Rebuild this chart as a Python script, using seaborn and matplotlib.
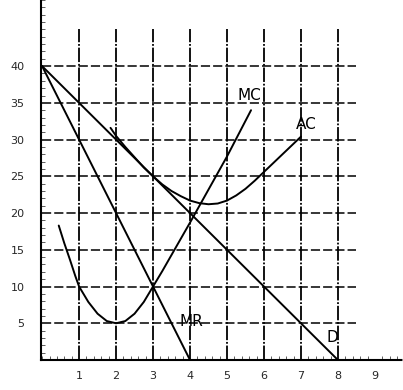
import numpy as np
import pandas as pd
import matplotlib
matplotlib.use("Agg")
import matplotlib.pyplot as plt
import seaborn as sns
from matplotlib.ticker import MultipleLocator

sns.set_theme(style="white")
plt.rcParams['font.family'] = ['DejaVu Sans']

# values
demand_q = [0, 8]
demand_p = [40, 0]

mr_q = [0, 4]
mr_p = [40, 0]

mc_q = [0.45, 0.6, 0.75, 0.9, 1.0, 1.25, 1.5, 1.75, 2.0, 2.25, 2.5, 2.75, 3.0,
        3.25, 3.5, 3.75, 4.0, 4.5, 5.0, 5.65]
mc_p = [18.3, 15.9, 13.7, 11.4, 10.0, 7.9, 6.3, 5.3, 5.0, 5.3, 6.3, 7.9, 10.0,
        12.1, 14.3, 16.5, 18.7, 23.2, 27.7, 34.0]

ac_q = [1.85, 2.0, 2.25, 2.5, 2.75, 3.0, 3.25, 3.5, 3.75, 4.0, 4.25, 4.5, 4.75,
        5.0, 5.25, 5.5, 5.75, 6.0, 6.25, 6.5, 6.75, 7.0]
ac_p = [31.6, 30.5, 29.0, 27.6, 26.2, 25.0, 23.9, 23.0, 22.3, 21.7, 21.35, 21.2, 21.3,
        21.7, 22.4, 23.3, 24.4, 25.6, 26.8, 28.0, 29.2, 30.4]

x_ticks = [1, 2, 3, 4, 5, 6, 7, 8, 9]
x_grid = [1, 2, 3, 4, 5, 6, 7, 8]
y_ticks = [5, 10, 15, 20, 25, 30, 35, 40]

labels = {"MC": (5.6, 36.0), "AC": (7.15, 32.0), "MR": (4.05, 5.3), "D": (7.85, 3.0)}

fig = plt.figure(figsize=(4.03, 3.90), dpi=100)
ax = fig.add_axes([41 / 403, 30 / 390, 362 / 403, 360 / 390])
ax.set_xlim(-0.03, 9.76)
ax.set_ylim(0, 49)

# grid
ax.hlines(y_ticks, 0, 8.5, colors="black", linestyles=(0, (6, 2)), linewidth=1.1, zorder=1)
ax.vlines(x_grid, 0, 45, colors="black", linestyles=(0, (8, 1, 1, 1)), linewidth=1.3, zorder=1)

curves = [(demand_q, demand_p), (mr_q, mr_p), (mc_q, mc_p), (ac_q, ac_p)]
for q, p in curves:
    df = pd.DataFrame({"q": q, "p": p})
    sns.lineplot(data=df, x="q", y="p", ax=ax, color="black", linewidth=1.4,
                 sort=False, estimator=None, zorder=3)

for name, (lx, ly) in labels.items():
    ax.text(lx, ly, name, fontsize=11, ha="center", va="center", color="black")

ax.set_xlabel("")
ax.set_ylabel("")
ax.set_xticks(x_ticks)
ax.set_yticks(y_ticks)
ax.xaxis.set_minor_locator(MultipleLocator(0.2))
ax.yaxis.set_minor_locator(MultipleLocator(1))
ax.tick_params(axis="both", which="both", bottom=True, left=True)
ax.tick_params(axis="both", which="major", length=0, labelsize=8, pad=8)
ax.tick_params(axis="both", which="minor", direction="in", length=3, width=0.6, color="#444444")
ax.tick_params(axis="y", which="major", pad=12)

for side in ["top", "right"]:
    ax.spines[side].set_visible(False)
for side in ["left", "bottom"]:
    ax.spines[side].set_linestyle((0, (1, 1)))
    ax.spines[side].set_linewidth(1.5)
    ax.spines[side].set_color("black")

fig.savefig("out.png", dpi=100)
